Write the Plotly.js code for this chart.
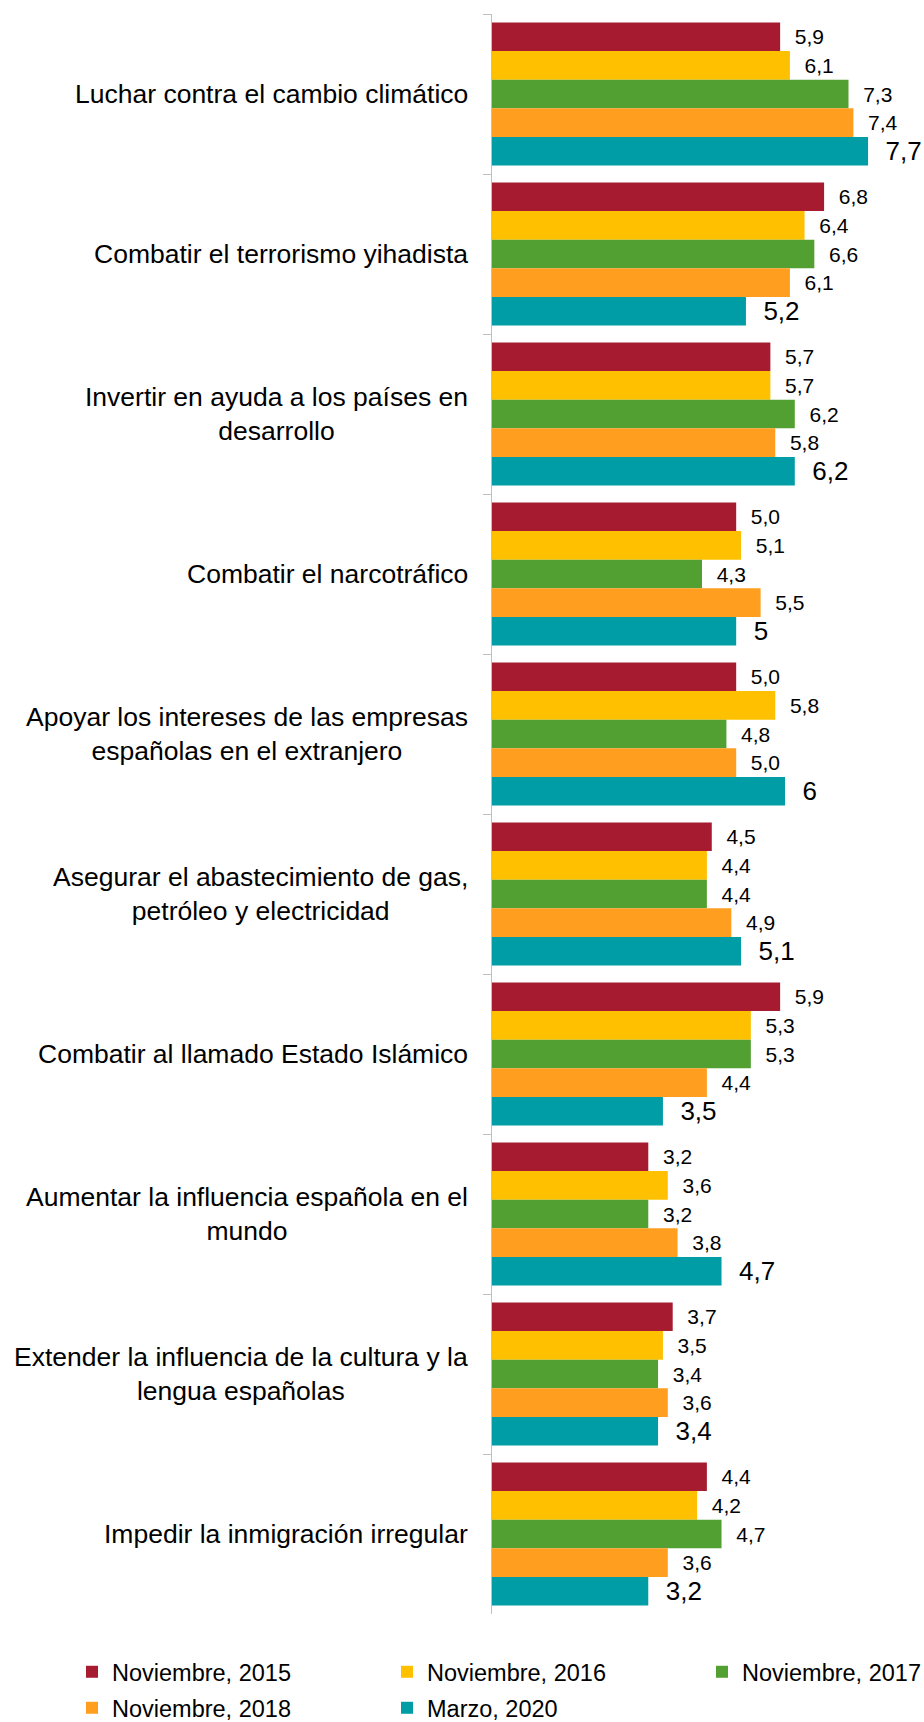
<!DOCTYPE html>
<html>
<head>
<meta charset="utf-8">
<script src="https://cdn.plot.ly/plotly-3.0.1.min.js"></script>
<style>
html,body{margin:0;padding:0;background:#fff;}
#chart{width:924px;height:1722px;}
</style>
</head>
<body>
<div id="chart"></div>
<script>
const categories = [
  "Luchar contra el cambio climático",
  "Combatir el terrorismo yihadista",
  "Invertir en ayuda a los países en<br>desarrollo",
  "Combatir el narcotráfico",
  "Apoyar los intereses de las empresas<br>españolas en el extranjero",
  "Asegurar el abastecimiento de gas,<br>petróleo y electricidad",
  "Combatir al llamado Estado Islámico",
  "Aumentar la influencia española en el<br>mundo",
  "Extender la influencia de la cultura y la<br>lengua españolas",
  "Impedir la inmigración irregular"
];
const seriesNames = ["Noviembre, 2015", "Noviembre, 2016", "Noviembre, 2017", "Noviembre, 2018", "Marzo, 2020"];
const nov2015 = [5.9, 6.8, 5.7, 5.0, 5.0, 4.5, 5.9, 3.2, 3.7, 4.4];
const nov2016 = [6.1, 6.4, 5.7, 5.1, 5.8, 4.4, 5.3, 3.6, 3.5, 4.2];
const nov2017 = [7.3, 6.6, 6.2, 4.3, 4.8, 4.4, 5.3, 3.2, 3.4, 4.7];
const nov2018 = [7.4, 6.1, 5.8, 5.5, 5.0, 4.9, 4.4, 3.8, 3.6, 3.6];
const mar2020 = [7.7, 5.2, 6.2, 5, 6, 5.1, 3.5, 4.7, 3.4, 3.2];

const colors = ["#A61B30", "#FFC000", "#52A032", "#FF9E1F", "#009DA7"];
const FONT = "Liberation Sans, Arial, sans-serif";

const seriesValues = [nov2015, nov2016, nov2017, nov2018, mar2020];
const fmt1 = v => v.toFixed(1).replace(".", ",");
const fmtRaw = v => String(v).replace(".", ",");

const legendNames = ["legend", "legend2", "legend3", "legend4", "legend5"];
const traces = seriesValues.map((vals, i) => ({
  type: "bar",
  orientation: "h",
  name: seriesNames[i],
  y: categories,
  x: vals,
  text: vals.map(i === 4 ? fmtRaw : fmt1),
  texttemplate: "\u00a0\u00a0%{text}",
  textposition: "outside",
  constraintext: "none",
  cliponaxis: false,
  textfont: {family: FONT, size: i === 4 ? 26 : 21, color: "#000"},
  marker: {color: colors[i], line: {width: 0}},
  legend: legendNames[i],
  showlegend: true,
  hoverinfo: "skip"
}));

const W = 924, H = 1722;
const legCols = [72, 387, 702];
const legRows = [1672, 1708];
const legPos = [[0,0],[1,0],[2,0],[0,1],[1,1]];

const layout = {
  width: W, height: H,
  margin: {l: 492, r: 12, t: 14, b: 108, autoexpand: false},
  paper_bgcolor: "#fff",
  plot_bgcolor: "#fff",
  barmode: "group",
  bargap: 0.105,
  bargroupgap: 0,
  showlegend: true,
  font: {family: FONT, color: "#000"},
  xaxis: {range: [0, 8.6], visible: false, fixedrange: true},
  yaxis: {
    type: "category",
    autorange: "reversed",
    showline: true, linecolor: "#BFBFBF", linewidth: 1,
    ticks: "outside", tickson: "boundaries", ticklen: 8, tickcolor: "#BFBFBF", tickwidth: 1,
    showticklabels: false, showgrid: false, zeroline: false
  },
  annotations: categories.map(c => ({
    xref: "paper", yref: "y", x: 0, y: c,
    xanchor: "right", yanchor: "middle", xshift: -22,
    text: c, align: "center", showarrow: false,
    font: {family: FONT, size: 26.5, color: "#000"}
  }))
};
legendNames.forEach((ln, i) => {
  layout[ln] = {
    xref: "container", yref: "container",
    x: legCols[legPos[i][0]] / W,
    y: 1 - legRows[legPos[i][1]] / H,
    xanchor: "left", yanchor: "middle",
    orientation: "h",
    bgcolor: "rgba(0,0,0,0)", borderwidth: 0,
    font: {family: FONT, size: 23.5, color: "#000"}
  };
});

Plotly.newPlot("chart", traces, layout, {displayModeBar: false, staticPlot: true});
</script>
</body>
</html>
